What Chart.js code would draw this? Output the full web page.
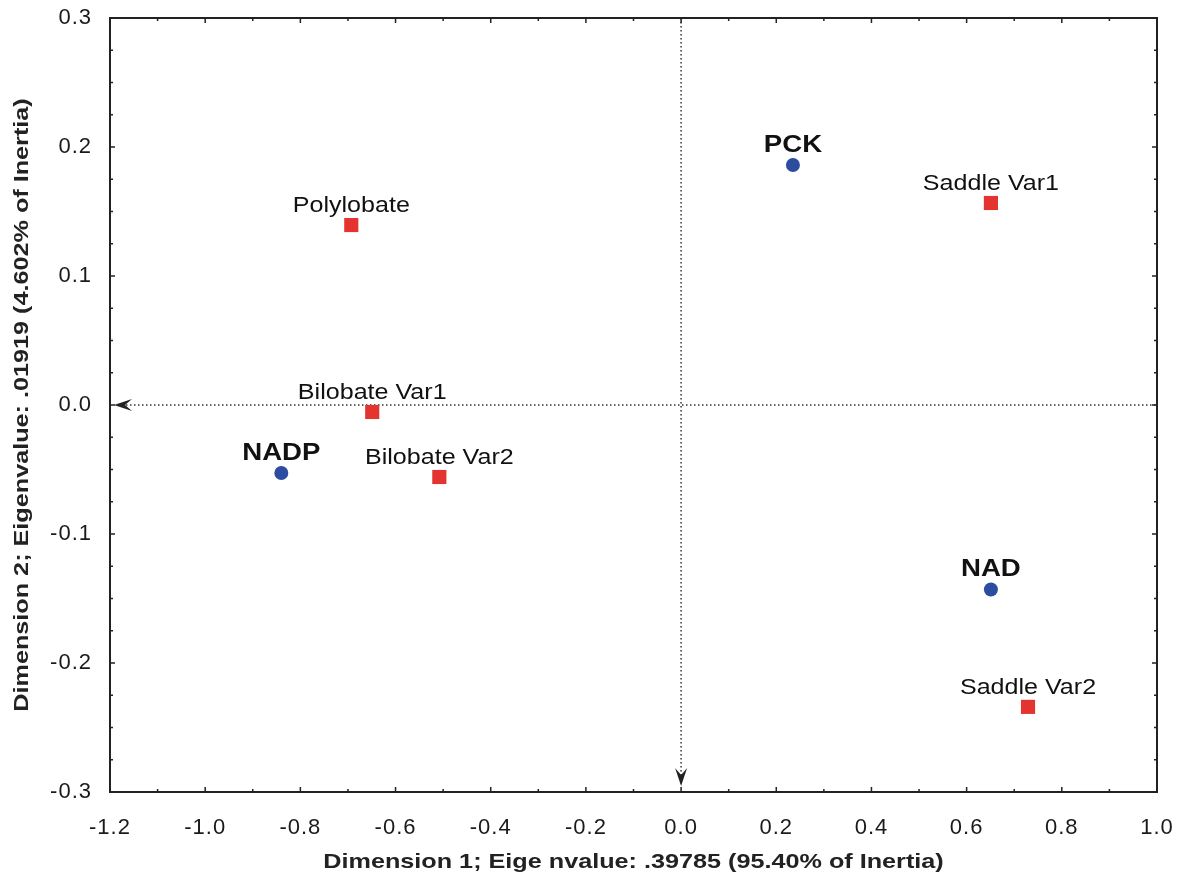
<!DOCTYPE html>
<html><head><meta charset="utf-8">
<script src="https://cdn.jsdelivr.net/npm/chart.js@4/dist/chart.umd.min.js"></script>
<style>html,body{margin:0;padding:0;background:#fff}#wrap{width:1186px;height:881px}</style>
</head><body><div id="wrap"><canvas id="c" width="1186" height="881"></canvas></div>
<script>
const xTicks = [-1.2,-1.0,-0.8,-0.6,-0.4,-0.2,0.0,0.2,0.4,0.6,0.8,1.0];
const yTicks = [-0.3,-0.2,-0.1,0.0,0.1,0.2,0.3];
const rowLabels = ["PCK","NADP","NAD"];
const rowX = [0.235,-0.840,0.651];
const rowY = [0.186,-0.0527,-0.143];
const colLabels = ["Polylobate","Saddle Var1","Bilobate Var1","Bilobate Var2","Saddle Var2"];
const colX = [-0.693,0.651,-0.649,-0.508,0.729];
const colY = [0.1395,0.1566,-0.0054,-0.0558,-0.234];
const xTitle = "Dimension 1; Eige nvalue: .39785 (95.40% of Inertia)";
const yTitle = "Dimension 2; Eigenvalue: .01919 (4.602% of Inertia)";

const FONT = "Liberation Sans, Arial, sans-serif";

function stretchText(ctx, txt, x, y, sx, rot){
  ctx.save();
  ctx.translate(x,y);
  if(rot) ctx.rotate(rot);
  ctx.scale(sx,1);
  ctx.fillText(txt,0,0);
  ctx.restore();
}

const framePlugin = {
  id:'frame',
  beforeDraw(chart){ chart.ctx.letterSpacing='1px'; },
  beforeDatasetsDraw(chart){
    const {ctx, chartArea:a, scales:{x,y}} = chart;
    ctx.save();
    ctx.strokeStyle='#333'; ctx.lineWidth=1.5; ctx.setLineDash([1.5,2.5]);
    const x0=x.getPixelForValue(0), y0=y.getPixelForValue(0);
    ctx.beginPath(); ctx.moveTo(a.left+8,y0); ctx.lineTo(a.right,y0); ctx.stroke();
    ctx.beginPath(); ctx.moveTo(x0,a.top); ctx.lineTo(x0,a.bottom-8); ctx.stroke();
    ctx.setLineDash([]);
    ctx.fillStyle='#222';
    ctx.beginPath(); ctx.moveTo(a.left+4,y0); ctx.lineTo(a.left+22,y0-6); ctx.lineTo(a.left+15,y0); ctx.lineTo(a.left+22,y0+6); ctx.closePath(); ctx.fill();
    ctx.beginPath(); ctx.moveTo(x0,a.bottom-6); ctx.lineTo(x0-6,a.bottom-24); ctx.lineTo(x0,a.bottom-17); ctx.lineTo(x0+6,a.bottom-24); ctx.closePath(); ctx.fill();
    ctx.restore();
  },
  afterDraw(chart){
    const {ctx, chartArea:a, scales:{x,y}} = chart;
    ctx.save();
    ctx.strokeStyle='#222'; ctx.lineWidth=2;
    ctx.strokeRect(a.left,a.top,a.right-a.left,a.bottom-a.top);
    ctx.lineWidth=1.5;
    for(let i=0;i<xTicks.length;i++){
      const px=x.getPixelForValue(xTicks[i]);
      ctx.beginPath(); ctx.moveTo(px,a.bottom); ctx.lineTo(px,a.bottom-5); ctx.moveTo(px,a.top); ctx.lineTo(px,a.top+5); ctx.stroke();
      if(i<xTicks.length-1){
        const pm=x.getPixelForValue((xTicks[i]+xTicks[i+1])/2);
        ctx.beginPath(); ctx.moveTo(pm,a.bottom); ctx.lineTo(pm,a.bottom-3); ctx.moveTo(pm,a.top); ctx.lineTo(pm,a.top+3); ctx.stroke();
      }
    }
    for(let i=0;i<yTicks.length-1;i++){
      for(let k=1;k<4;k++){
        const pm=y.getPixelForValue(yTicks[i]+(yTicks[i+1]-yTicks[i])*k/4);
        ctx.beginPath(); ctx.moveTo(a.left,pm); ctx.lineTo(a.left+3,pm); ctx.moveTo(a.right,pm); ctx.lineTo(a.right-3,pm); ctx.stroke();
      }
    }
    for(let i=0;i<yTicks.length;i++){
      const py=y.getPixelForValue(yTicks[i]);
      ctx.beginPath(); ctx.moveTo(a.left,py); ctx.lineTo(a.left+5,py); ctx.moveTo(a.right,py); ctx.lineTo(a.right-5,py); ctx.stroke();
    }
    ctx.letterSpacing='0px';
    ctx.textAlign='center'; ctx.textBaseline='alphabetic'; ctx.fillStyle='#111';
    chart.data.datasets.forEach((ds,di)=>{
      ctx.font = di===0 ? "bold 24px "+FONT : "22px "+FONT;
      const sx = di===0 ? 1.15 : 1.14;
      ds.data.forEach((p,i)=>{
        const px=x.getPixelForValue(p.x), py=y.getPixelForValue(p.y);
        stretchText(ctx, ds.labels[i], px, py-13, sx, 0);
      });
    });
    ctx.fillStyle='#222';
    ctx.font="bold 21px "+FONT;
    ctx.textBaseline='middle';
    stretchText(ctx, xTitle, (a.left+a.right)/2, 862, 1.2, 0);
    stretchText(ctx, yTitle, 22, (a.top+a.bottom)/2, 1.2, -Math.PI/2);
    ctx.restore();
  }
};

new Chart(document.getElementById('c'),{
  type:'scatter',
  data:{datasets:[
    {labels:rowLabels, data:rowX.map((v,i)=>({x:v,y:rowY[i]})), pointStyle:'circle', pointRadius:7, pointHoverRadius:7, backgroundColor:'#2c4c9f', borderWidth:0},
    {labels:colLabels, data:colX.map((v,i)=>({x:v,y:colY[i]})), pointStyle:'rect', pointRadius:10, pointHoverRadius:10, backgroundColor:'#e3342f', borderWidth:0}
  ]},
  plugins:[framePlugin],
  options:{
    responsive:false, animation:false, devicePixelRatio:1,
    layout:{padding:{top:18,right:29,left:0,bottom:0}},
    plugins:{legend:{display:false},tooltip:{enabled:false}},
    scales:{
      x:{type:'linear',min:-1.2,max:1.0,
        afterBuildTicks(s){s.ticks=xTicks.map(v=>({value:v}));},
        afterFit(s){s.height=89; s.paddingLeft=0; s.paddingRight=0;},
        grid:{display:false,drawTicks:false},border:{display:false},
        ticks:{padding:23,color:'#1a1a1a',font:{family:FONT,size:22},callback:v=>Number(v).toFixed(1)},
        title:{display:false}
      },
      y:{type:'linear',min:-0.3,max:0.3,
        afterBuildTicks(s){s.ticks=yTicks.map(v=>({value:v}));},
        afterFit(s){s.width=110; s.paddingTop=0; s.paddingBottom=0;},
        grid:{display:false,drawTicks:false},border:{display:false},
        ticks:{padding:18,color:'#1a1a1a',font:{family:FONT,size:22},callback:v=>Number(v).toFixed(1)},
        title:{display:false}
      }
    }
  }
});
</script></body></html>
